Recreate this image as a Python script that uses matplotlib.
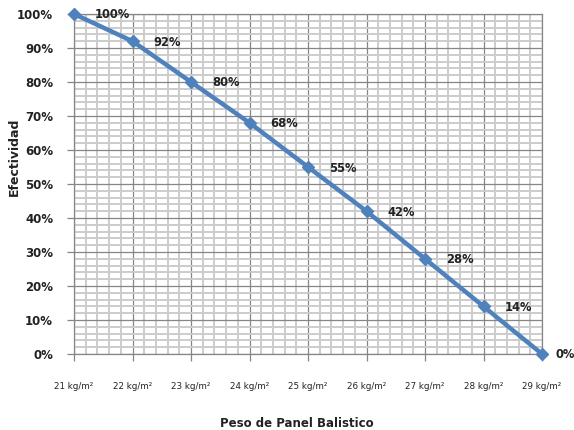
import matplotlib
matplotlib.use('Agg')
import matplotlib.pyplot as plt
from matplotlib.ticker import MultipleLocator, FixedLocator

# pesos del panel (kg/m2) y efectividad (%)
pesos = [21, 22, 23, 24, 25, 26, 27, 28, 29]
efectividad = [100, 92, 80, 68, 55, 42, 28, 14, 0]
etiquetas_x = [f'{p} kg/m²' for p in pesos]
etiquetas_y = [f'{v}%' for v in range(0, 101, 10)]

fig = plt.figure(figsize=(5.74, 4.30), dpi=100)
ax = fig.add_axes([74 / 574, 1 - 354 / 430, 468 / 574, 340 / 430])

azul = '#4F81BD'
ax.plot(pesos, efectividad, color=azul, linewidth=3.2, marker='D',
        markersize=6.5, zorder=5, clip_on=False)

# etiquetas de datos a la derecha de cada punto
for i, (p, v) in enumerate(zip(pesos, efectividad)):
    dx = 13 if i == len(pesos) - 1 else 21
    ax.annotate(f'{v}%', (p, v), xytext=(dx, -1), textcoords='offset pixels',
                ha='left', va='center', fontsize=8.3, fontweight='bold',
                color='#222222', zorder=6)

ax.set_xlim(21, 29)
ax.set_ylim(0, 100)

# cuadrícula principal y secundaria
ax.xaxis.set_major_locator(FixedLocator(pesos))
ax.xaxis.set_minor_locator(MultipleLocator(0.2))
ax.yaxis.set_major_locator(MultipleLocator(10))
ax.yaxis.set_minor_locator(MultipleLocator(2))
ax.grid(which='minor', color='#CCCCCC', linewidth=1.4, zorder=0)
ax.grid(which='major', color='#868686', linewidth=0.9, zorder=1)
ax.set_axisbelow(True)

ax.set_xticklabels(etiquetas_x, fontsize=6.3, color='#222222')
ax.set_yticks(range(0, 101, 10))
ax.set_yticklabels(etiquetas_y, fontsize=8.5, fontweight='bold', color='#222222')
ax.tick_params(which='major', axis='both', length=5, color='#868686', width=0.9)
ax.tick_params(which='major', axis='x', pad=15)
ax.tick_params(which='major', axis='y', pad=10)
ax.tick_params(which='minor', length=0)

for lado in ['top', 'right', 'bottom', 'left']:
    ax.spines[lado].set_color('#868686')
    ax.spines[lado].set_linewidth(0.9)

fig.text(14 / 574, 1 - 157 / 430, 'Efectividad', rotation=90, ha='center',
         va='center', fontsize=9, fontweight='bold', color='#222222')
fig.text(297 / 574, 1 - 417 / 430, 'Peso de Panel Balistico', ha='center',
         va='top', fontsize=8.5, fontweight='bold', color='#222222')

plt.savefig('out.png', dpi=100)
